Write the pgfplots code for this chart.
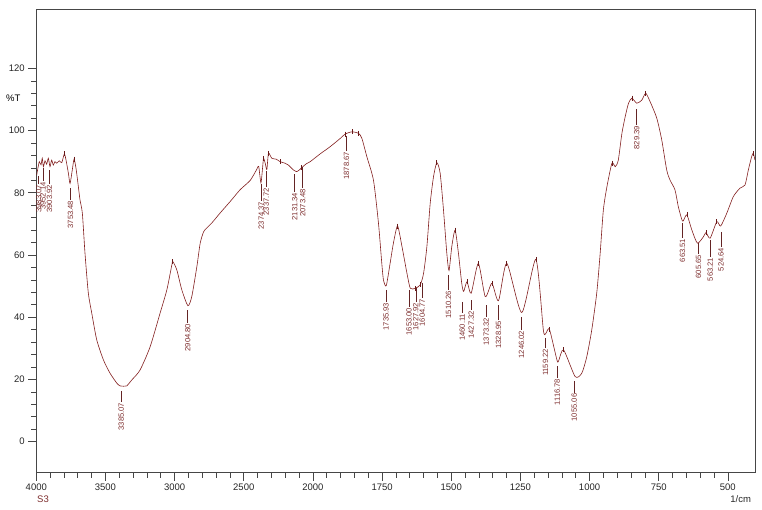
\documentclass[border=0pt]{standalone}
\usepackage{fontspec}
\setmainfont{Liberation Sans}
\usepackage{pgfplots}
\usepackage{pgfplotstable}
\pgfplotsset{compat=1.18}
\definecolor{spec}{RGB}{130,30,30}
\definecolor{lab}{RGB}{125,45,45}
\definecolor{axc}{RGB}{70,70,70}

\pgfplotstableread{
wn T
3997 85.7
3988 88.0
3978 90.0
3966 89.0
3957 91.1
3949 88.4
3937 90.3
3925 89.2
3913 91.1
3901 88.4
3889 90.5
3877 88.9
3865 90.0
3852 89.5
3834 90.3
3816 89.7
3797 92.5
3785 90.5
3768 86.3
3756 83.0
3740 87.3
3727 90.8
3713 87.9
3696 82.0
3684 77.7
3667 73.4
3648 60.6
3624 47.8
3599 41.3
3563 32.7
3515 26.3
3467 22.0
3418 18.8
3394 17.9
3370 17.8
3346 17.9
3310 19.8
3250 23.0
3177 30.5
3105 41.3
3056 48.8
3020 56.8
3013 57.9
2984 55.2
2948 48.8
2904 43.7
2876 46.6
2839 56.3
2815 63.8
2790 67.5
2765 68.8
2729 70.4
2671 73.5
2598 77.2
2526 81.0
2453 84.0
2405 87.6
2392 88.5
2376 83.2
2364 88.0
2357 91.1
2345 89.5
2333 87.5
2321 92.7
2297 91.1
2265 90.8
2237 90.0
2201 89.5
2177 88.9
2140 87.3
2116 86.8
2099 87.3
2080 88.1
2049 89.3
2020 90.0
1974 92.5
1938 94.8
1901 97.5
1883 98.9
1859 99.6
1835 99.1
1823 97.5
1805 91.6
1781 84.0
1763 70.2
1751 57.3
1745 52.0
1735 50.1
1721 57.3
1709 63.8
1694 69.3
1678 62.7
1660 54.1
1648 49.3
1630 49.3
1612 50.4
1600 54.1
1588 62.7
1576 76.6
1564 85.2
1552 89.7
1540 86.3
1528 74.5
1516 60.6
1508 55.0
1498 62.7
1486 68.0
1474 60.6
1462 50.9
1455 48.3
1443 51.4
1428 47.7
1402 57.3
1377 46.6
1353 50.9
1329 45.3
1299 57.3
1245 41.5
1194 58.6
1167 35.9
1158 34.8
1145 36.1
1118 26.3
1112 25.9
1094 29.5
1052 20.9
1028 22.0
1010 27.3
992 35.9
974 47.7
962 60.0
950 74.5
937 82.0
919 89.5
907 88.4
896 90.5
883 99.1
871 104.5
859 108.8
847 110.4
829 108.8
811 109.8
797 112.0
781 109.3
757 104.0
739 97.0
721 87.3
709 84.1
691 80.9
679 75.5
666 71.3
661 71.0
648 72.9
630 68.0
610 63.8
588 65.9
579 67.2
564 65.4
540 70.7
526 69.3
504 73.4
480 78.8
456 81.5
438 82.5
426 87.3
414 91.6
408 92.7
402 90.5
}\spectrum

\pgfplotstableread{
wn T
3797 92.5
3727 90.8
3013 57.9
2357 91.1
2321 92.7
2237 90.0
2080 88.1
1883 98.9
1859 99.6
1835 99.1
1694 69.3
1630 49.3
1612 50.4
1552 89.7
1486 68.0
1443 51.4
1402 57.3
1353 50.9
1299 57.3
1194 58.6
1145 36.1
1094 29.5
919 89.5
847 110.4
797 112.0
648 72.9
579 67.2
540 70.7
408 92.7
}\maxima

\pgfplotstableread{
wn top bot txt
3983.07 85.4 82.8 3983.07
3952.14 87.9 83.7 3952.14
3903.92 87.3 82.8 3903.92
3753.48 81.5 77.7 3753.48
3385.07 16.3 12.8 3385.07
2904.80 42.3 38.2 2904.80
2374.37 82.8 77.4 2374.37
2337.72 87.0 81.9 2337.72
2131.34 86.0 80.3 2131.34
2073.48 88.3 81.5 2073.48
1878.67 98.3 93.4 1878.67
1735.93 48.8 44.9 1735.93
1653.00 48.8 43.3 1653.00
1627.92 49.4 44.9 1627.92
1604.77 51.0 46.2 1604.77
1510.26 53.6 48.8 1510.26
1460.11 44.9 41.4 1460.11
1427.32 45.5 42.3 1427.32
1373.32 43.9 40.1 1373.32
1328.95 43.9 39.1 1328.95
1246.02 40.1 35.9 1246.02
1159.22 33.3 30.1 1159.22
1116.78 24.3 20.5 1116.78
1055.06 19.5 15.7 1055.06
829.39 106.9 101.8 829.39
663.51 70.3 65.5 663.51
605.65 63.8 60.3 605.65
563.21 64.8 59.4 563.21
524.64 67.4 62.6 524.64
}\peaks

\begin{document}
\begin{tikzpicture}[declare function={wu(\w)=(\w>=2000)*(4000-\w)/500+(\w<2000)*(4+(2000-\w)/250);}]
\begin{axis}[name=ax, scale only axis, width=719.2pt, height=463.4pt,
  xmin=0, xmax=10.4, ymin=-10, ymax=139,
  xtick={0,1,2,3,4,5,6,7,8,9,10},
  xticklabels={4000,3500,3000,2500,2000,1750,1500,1250,1000,750,500},
  minor x tick num=4,
  ytick={0,20,40,60,80,100,120}, minor y tick num=4,
  xtick pos=bottom, ytick pos=left, tick align=outside,
  major tick length=8pt, minor tick length=5pt,
  axis line style={axc, line width=0.7pt},
  tick style={axc, line width=0.6pt},
  tick label style={font=\fontsize{9.5}{11}\selectfont, text=black!85},
  /pgf/number format/assume math mode=true,
  clip=false]
\addplot[spec, line width=0.6pt, smooth, tension=0.4, mark=none]
  table[x expr={wu(\thisrow{wn})}, y=T]{\spectrum};
\addplot[only marks, mark=|, mark size=2.5pt, mark options={spec!80!black, line width=0.7pt}]
  table[x expr={wu(\thisrow{wn})}, y=T]{\maxima};
\addplot[draw=none, mark=none, forget plot, error bars/.cd, y dir=minus, y explicit, error mark=none,
  error bar style={draw=lab!80!black, line width=0.6pt}]
  table[x expr={wu(\thisrow{wn})}, y=top, y error expr={\thisrow{top}-\thisrow{bot}}]{\peaks};
\addplot[draw=none, mark=none, forget plot, nodes near coords, point meta=explicit symbolic,
  nodes near coords style={rotate=90, anchor=east, inner sep=0.8pt,
    font=\fontsize{7.6}{8}\selectfont, text=lab}]
  table[x expr={wu(\thisrow{wn})}, y=bot, meta=txt]{\peaks};
\node[font=\fontsize{9.5}{11}\selectfont] at (axis cs:0,110.3) [xshift=-23pt] {\%T};
\end{axis}
\node[font=\fontsize{9.5}{11}\selectfont, text=lab] at ([shift={(6.7pt,-26.8pt)}]ax.south west) {S3};
\node[font=\fontsize{9.5}{11}\selectfont, anchor=east, text=black!85] at ([shift={(-1pt,-26.8pt)}]ax.south east) {1/cm};
\pgfresetboundingbox
\path[use as bounding box] ([shift={(-36.3pt,-37.3pt)}]ax.south west) rectangle ([shift={(6.5pt,9.3pt)}]ax.north east);
\end{tikzpicture}
\end{document}
